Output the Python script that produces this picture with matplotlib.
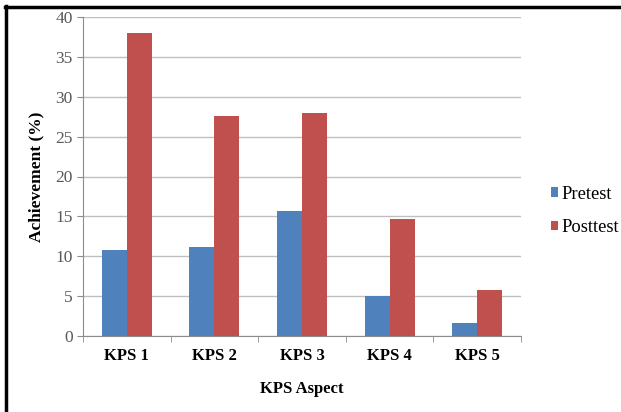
import matplotlib.pyplot as plt
import numpy as np
from matplotlib.lines import Line2D

categories = ["KPS 1", "KPS 2", "KPS 3", "KPS 4", "KPS 5"]
pretest = [10.8, 11.1, 15.7, 5.0, 1.6]
posttest = [38.0, 27.6, 28.0, 14.7, 5.8]

fig = plt.figure(figsize=(6.21, 4.12), dpi=100)
ax = fig.add_axes([83 / 621, 1 - 336 / 412, (521 - 83) / 621, (336 - 17) / 412])

x = np.arange(len(categories))
w = 0.285
ax.bar(x - w / 2, pretest, w, color="#4F81BD", label="Pretest", zorder=3)
ax.bar(x + w / 2, posttest, w, color="#C0504D", label="Posttest", zorder=3)

ax.set_xlim(-0.5, len(categories) - 0.5)
ax.set_ylim(0, 40)
ax.set_yticks(range(0, 41, 5))
ax.yaxis.grid(True, color="#BFBFBF", linewidth=1, zorder=0)

# category labels centred, tick marks on the boundaries
ax.set_xticks(x)
ax.set_xticklabels(categories, family="Liberation Serif", fontweight="bold", fontsize=12)
ax.tick_params(axis="x", length=0, pad=9)
ax.set_xticks(np.arange(-0.5, len(categories)), minor=True)
ax.tick_params(axis="x", which="minor", length=4, color="#8C8C8C")
ax.tick_params(axis="y", length=4, color="#8C8C8C", labelsize=12.5, labelcolor="#595959")
for lab in ax.get_yticklabels():
    lab.set_family("Liberation Serif")

for s in ["top", "right"]:
    ax.spines[s].set_visible(False)
for s in ["left", "bottom"]:
    ax.spines[s].set_color("#8C8C8C")

ax.set_xlabel("KPS Aspect", family="Liberation Serif", fontweight="bold", fontsize=12, labelpad=12)
ax.set_ylabel("Achievement (%)", family="Liberation Serif", fontweight="bold", fontsize=12.5, labelpad=8)

leg = ax.legend(loc="center left", bbox_to_anchor=(1.03, 0.392), frameon=False,
                prop={"family": "Liberation Serif", "size": 13.3},
                handlelength=0.4, handleheight=0.4, handletextpad=0.2, labelspacing=0.9)

# picture is cropped: only the top and left of the black frame are visible
fig.lines.append(Line2D([5 / 621, 1], [1 - 7 / 412, 1 - 7 / 412], transform=fig.transFigure,
                        color="black", linewidth=2.5))
fig.lines.append(Line2D([6 / 621, 6 / 621], [0, 1 - 6 / 412], transform=fig.transFigure,
                        color="black", linewidth=2.5))

fig.savefig("out.png", dpi=100)
